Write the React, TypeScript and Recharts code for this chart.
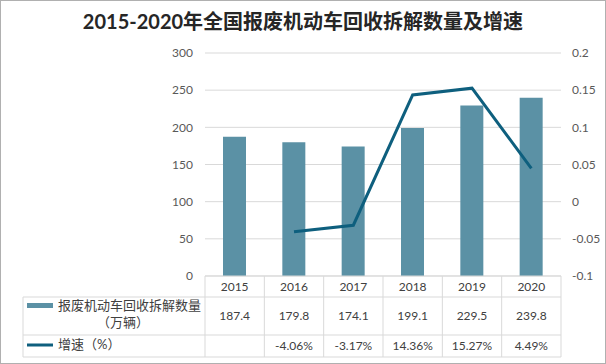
import React from 'react';
import { ComposedChart, Bar, Line, XAxis, YAxis, CartesianGrid } from 'recharts';

// data
const years = ['2015', '2016', '2017', '2018', '2019', '2020'];
const scrapped = [187.4, 179.8, 174.1, 199.1, 229.5, 239.8]; // 万辆
const growthPct = [null, -4.06, -3.17, 14.36, 15.27, 4.49]; // %
const leftTicks = [0, 50, 100, 150, 200, 250, 300];
const rightTicks = [-0.1, -0.05, 0, 0.05, 0.1, 0.15, 0.2];

const TITLE = '2015-2020年全国报废机动车回收拆解数量及增速';
const BAR_NAME = '报废机动车回收拆解数量';
const BAR_UNIT = '（万辆）';
const LINE_NAME = '增速（%）';

const BAR_COLOR = '#5b91a5';
const LINE_COLOR = '#0e5f7e';
const GRID = '#d9d9d9';
const TEXT = '#404040';
const FONT = 'Lato, "Noto Sans CJK SC", sans-serif';

// layout
const W = 606;
const H = 364;
const PLOT_LEFT = 205;
const PLOT_RIGHT = 561;
const PLOT_TOP = 53;
const AXIS_H = 21;
const MARGIN_BOTTOM = 67;
const PLOT_BOTTOM = H - MARGIN_BOTTOM - AXIS_H;
const TABLE_LEFT = 23;
const ROW1 = PLOT_BOTTOM + AXIS_H;
const ROW2 = 335;
const TABLE_BOTTOM = 357;
const colW = (PLOT_RIGHT - PLOT_LEFT) / years.length;
const colX = (i: number) => PLOT_LEFT + colW * (i + 0.5);

const data = years.map((y, i) => ({
  year: y,
  amount: scrapped[i],
  growth: growthPct[i] == null ? null : (growthPct[i] as number) / 100,
}));

const fmtRight = (v: number) => String(Number(v.toFixed(2)));

export default function App() {
  return (
    <div style={{ position: 'absolute', left: 0, top: 0, width: W, height: H, background: '#fff', fontFamily: FONT }}>
      <ComposedChart
        width={W}
        height={H}
        data={data}
        margin={{ top: PLOT_TOP, right: 0, bottom: MARGIN_BOTTOM, left: 0 }}
      >
        <CartesianGrid vertical={false} stroke={GRID} />
        <XAxis
          dataKey="year"
          height={AXIS_H}
          tickLine={false}
          tickSize={6}
          tickMargin={0}
          axisLine={{ stroke: GRID }}
          tick={{ fill: TEXT, fontSize: 12, fontFamily: FONT }}
        />
        <YAxis
          width={PLOT_LEFT}
          domain={[0, 300]}
          ticks={leftTicks}
          tickLine={false}
          axisLine={false}
          tickSize={6}
          tickMargin={6}
          tick={{ fill: '#595959', fontSize: 12, fontFamily: FONT }}
        />
        <YAxis
          yAxisId="r"
          orientation="right"
          width={W - PLOT_RIGHT}
          domain={[-0.1, 0.2]}
          ticks={rightTicks}
          tickFormatter={fmtRight}
          tickLine={false}
          axisLine={false}
          tickSize={6}
          tickMargin={5}
          tick={{ fill: '#595959', fontSize: 12, fontFamily: FONT }}
        />
        <Bar dataKey="amount" fill={BAR_COLOR} barSize={23} isAnimationActive={false} />
        <Line
          yAxisId="r"
          dataKey="growth"
          type="linear"
          stroke={LINE_COLOR}
          strokeWidth={3}
          dot={false}
          activeDot={false}
          isAnimationActive={false}
        />
      </ComposedChart>

      {/* title + data table under the axis */}
      <svg width={W} height={H} style={{ position: 'absolute', left: 0, top: 0, pointerEvents: 'none' }}>
        <rect x={0.5} y={0.5} width={W - 1} height={H - 1} fill="none" stroke="#b0b0b0" />
        <text x={W / 2} y={29} textAnchor="middle" fontSize={20} fontWeight="bold" fill="#262626" fontFamily={FONT}>
          {TITLE}
        </text>

        <g stroke={GRID} strokeWidth={1}>
          <line x1={TABLE_LEFT} x2={PLOT_RIGHT} y1={ROW1} y2={ROW1} />
          <line x1={TABLE_LEFT} x2={PLOT_RIGHT} y1={ROW2} y2={ROW2} />
          <line x1={TABLE_LEFT} x2={PLOT_RIGHT} y1={TABLE_BOTTOM} y2={TABLE_BOTTOM} />
          <line x1={TABLE_LEFT} x2={TABLE_LEFT} y1={ROW1} y2={TABLE_BOTTOM} />
          {years.map((_, i) => (
            <line key={i} x1={PLOT_LEFT + colW * i} x2={PLOT_LEFT + colW * i} y1={PLOT_BOTTOM} y2={TABLE_BOTTOM} />
          ))}
          <line x1={PLOT_RIGHT} x2={PLOT_RIGHT} y1={PLOT_BOTTOM} y2={TABLE_BOTTOM} />
        </g>

        {/* legend keys */}
        <rect x={27} y={303} width={26} height={5} fill={BAR_COLOR} />
        <line x1={27} x2={53} y1={345} y2={345} stroke={LINE_COLOR} strokeWidth={3} />
        <text x={58} y={310} fontSize={13} fill={TEXT} fontFamily={FONT}>{BAR_NAME}</text>
        <text x={123} y={327} fontSize={13} fill={TEXT} textAnchor="middle" fontFamily={FONT}>{BAR_UNIT}</text>
        <text x={58} y={349} fontSize={13} fill={TEXT} fontFamily={FONT}>{LINE_NAME}</text>

        {scrapped.map((v, i) => (
          <text key={'a' + i} x={colX(i)} y={320} fontSize={12} fill={TEXT} textAnchor="middle" fontFamily={FONT}>
            {v.toFixed(1)}
          </text>
        ))}
        {growthPct.map((v, i) =>
          v == null ? null : (
            <text key={'g' + i} x={colX(i)} y={350} fontSize={12} fill={TEXT} textAnchor="middle" fontFamily={FONT}>
              {v.toFixed(2) + '%'}
            </text>
          )
        )}
      </svg>
    </div>
  );
}
